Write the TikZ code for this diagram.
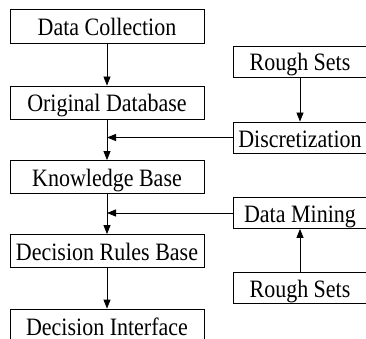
\documentclass[tikz,border=0pt]{standalone}
\usepackage{fontspec}
\setmainfont{Liberation Serif}
\newfontfamily\condserif[FakeStretch=0.88]{Liberation Serif}
\usetikzlibrary{arrows.meta}
\tikzset{
  box/.style={draw=black, line width=0.8pt, inner sep=0pt, text height=22pt, text depth=3pt,
    font=\condserif\fontsize{25}{30}\selectfont},
  lbox/.style={box, minimum width=194pt, minimum height=33pt},
  rbox/.style={box, minimum width=134pt, minimum height=31pt},
  conn/.style={draw=black, line width=0.8pt, -{Triangle[length=9pt,width=7pt]}},
  link/.style={draw=black, line width=0.8pt}
}
\begin{document}
\begin{tikzpicture}[x=1pt,y=-1pt]
\useasboundingbox (0,0) rectangle (366,339);
\clip (0,0) rectangle (366,339);
\node[lbox, minimum height=34pt] (dc) at (107,26) {Data Collection};
\node[lbox] (od) at (107,102.5) {Original Database};
\node[lbox] (kb) at (107,177) {Knowledge Base};
\node[lbox] (dr) at (107,251) {Decision Rules Base};
\node[lbox, minimum height=34pt] (di) at (107,326) {Decision Interface};
\node[rbox] (rs1) at (300,61.5) {Rough Sets};
\node[rbox] (disc) at (300,137.5) {Discretization};
\node[rbox] (dm) at (300,213) {Data Mining};
\node[rbox] (rs2) at (300,288) {Rough Sets};
\coordinate (j1) at (od.south |- disc.west);
\coordinate (j2) at (kb.south |- dm.west);
\draw[conn] (dc) -- (od);
\draw[conn] (od) -- (kb);
\draw[conn] (kb) -- (dr);
\draw[conn] (dr) -- (di);
\draw[conn] (disc.west) -- (j1);
\draw[conn] (dm.west) -- (j2);
\draw[conn] (rs1) -- (disc);
\draw[conn] (rs2) -- (dm);
\end{tikzpicture}
\end{document}
